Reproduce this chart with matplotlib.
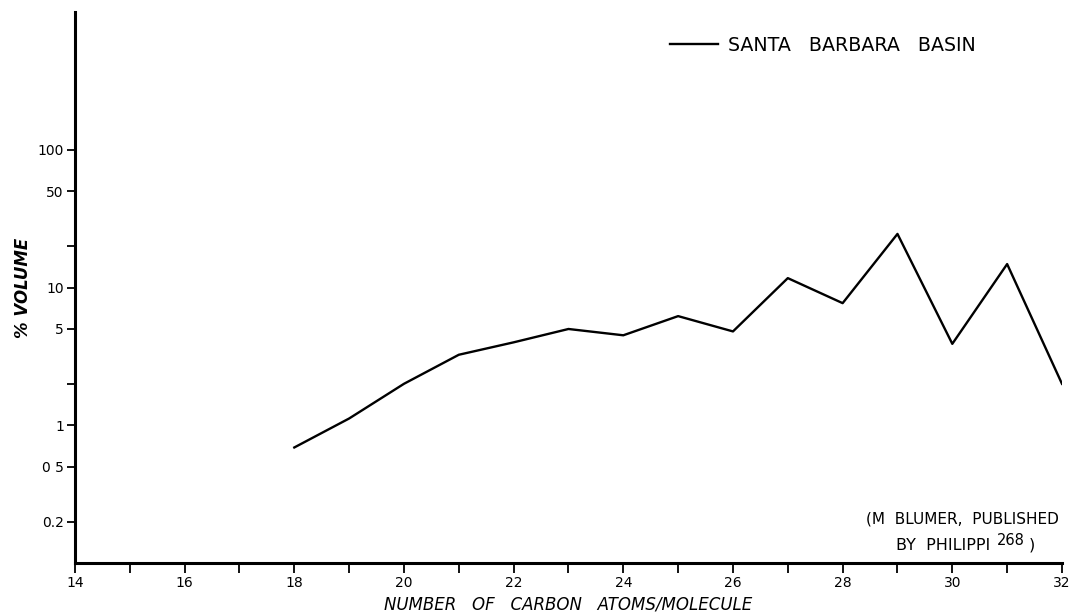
import matplotlib
matplotlib.use("Agg")
import matplotlib.pyplot as plt
from matplotlib.ticker import FixedLocator, FixedFormatter, NullLocator

plt.rcParams['font.family'] = ['DejaVu Sans']

carbon_atoms = [18, 19, 20, 21, 22, 23, 24, 25, 26, 27, 28, 29, 30, 31, 32]
pct_volume = [0.69, 1.12, 2.0, 3.25, 4.0, 5.0, 4.5, 6.2, 4.8, 11.7, 7.7, 24.5, 3.9, 14.8, 2.0]

y_major = [0.2, 0.5, 1, 2, 5, 10, 20, 50, 100]
y_labels = ["0.2", "0 5", "1", "", "5", "10", "", "50", "100"]
x_major = list(range(14, 33))
x_labels = [str(v) if v % 2 == 0 else "" for v in x_major]

fig = plt.figure(figsize=(10.74, 6.16), dpi=100)
ax = fig.add_axes([0.0698, 0.086, 0.9190, 0.8945])

line, = ax.plot(carbon_atoms, pct_volume, color="black", lw=1.7,
                label="SANTA   BARBARA   BASIN")

ax.set_yscale("log")
ax.set_xlim(14, 32)
ax.set_ylim(0.1, 1000)

ax.yaxis.set_major_locator(FixedLocator(y_major))
ax.yaxis.set_major_formatter(FixedFormatter(y_labels))
ax.yaxis.set_minor_locator(NullLocator())
ax.xaxis.set_major_locator(FixedLocator(x_major))
ax.xaxis.set_major_formatter(FixedFormatter(x_labels))

for s in ["top", "right"]:
    ax.spines[s].set_visible(False)
for s in ["left", "bottom"]:
    ax.spines[s].set_linewidth(2.2)

ax.tick_params(axis="y", direction="out", length=6, width=1.3, labelsize=10, pad=2)
ax.tick_params(axis="x", direction="out", length=7, width=1.3, labelsize=10, pad=2)

ax.set_xlabel("NUMBER   OF   CARBON   ATOMS/MOLECULE", fontsize=12,
              fontstyle="italic", labelpad=4)
ax.set_ylabel("% VOLUME", fontsize=12, fontstyle="italic", fontweight="bold",
              labelpad=4)

leg = ax.legend(handles=[line], loc="center left", bbox_to_anchor=(0.603, 0.94),
                frameon=False, fontsize=13.7, handlelength=2.5, handletextpad=0.55,
                borderpad=0, borderaxespad=0)

ax.text(0.8987, 0.0799, "(M  BLUMER,  PUBLISHED", transform=ax.transAxes,
        ha="center", va="center", fontsize=11)
ax.text(0.927, 0.0327, "BY  PHILIPPI", transform=ax.transAxes,
        ha="right", va="center", fontsize=11.5)
ax.text(0.9345, 0.041, "268", transform=ax.transAxes,
        ha="left", va="center", fontsize=10.5)
ax.text(0.9665, 0.0327, ")", transform=ax.transAxes,
        ha="left", va="center", fontsize=11.5)

fig.savefig("out.png", dpi=100)
